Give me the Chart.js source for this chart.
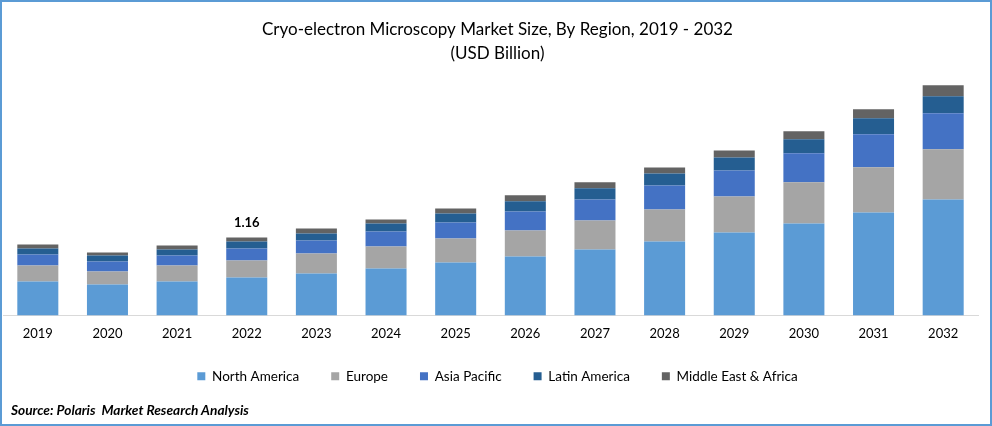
<!DOCTYPE html>
<html>
<head>
<meta charset="utf-8">
<title>Cryo-electron Microscopy Market Size</title>
<script src="https://cdn.jsdelivr.net/npm/chart.js@4"></script>
<style>
  html, body { margin: 0; padding: 0; background: #fff; }
  #wrap { position: relative; width: 992px; height: 426px; overflow: hidden; }
  #frame { position: absolute; inset: 0; border: 2px solid #5b9bd5; pointer-events: none; }
  #source { position: absolute; left: 11px; top: 401px; font: italic 700 13.7px Lato, sans-serif; color: #000; white-space: pre; }
</style>
</head>
<body>
<div id="wrap">
  <canvas id="myChart" width="992" height="426"></canvas>
  <div id="frame"></div>
  <div id="source">Source: Polaris  Market Research Analysis</div>
</div>
<script>
const years = ["2019","2020","2021","2022","2023","2024","2025","2026","2027","2028","2029","2030","2031","2032"];
const northAmerica = [0.506,0.461,0.506,0.565,0.625,0.699,0.788,0.877,0.982,1.100,1.234,1.368,1.532,1.725];
const europe = [0.238,0.193,0.238,0.253,0.297,0.327,0.357,0.387,0.431,0.476,0.535,0.610,0.669,0.744];
const asiaPacific = [0.164,0.149,0.149,0.178,0.193,0.223,0.238,0.283,0.312,0.357,0.387,0.431,0.491,0.535];
const latinAmerica = [0.089,0.089,0.089,0.104,0.104,0.119,0.134,0.149,0.164,0.178,0.193,0.208,0.238,0.253];
const middleEastAfrica = [0.059,0.045,0.059,0.059,0.074,0.059,0.074,0.089,0.089,0.089,0.104,0.119,0.134,0.164];
const labelledYear = "2022";
const labelledTotal = "1.16";

const fontName = "Lato, sans-serif";

// title and legend sit a little right of the plot centre in the original,
// and the legend is well above the bottom edge to leave room for the source line
const shiftBoxes = {
  id: "shiftBoxes",
  afterLayout(chart) {
    chart.titleBlock.left += 7;
    chart.titleBlock.right += 7;
    chart.legend.left += 7;
    chart.legend.right += 7;
    chart.legend.top -= 33;
    chart.legend.bottom -= 33;
  }
};

// the one total printed above the 2022 bar
const totalLabel = {
  id: "totalLabel",
  afterDatasetsDraw(chart) {
    const idx = years.indexOf(labelledYear);
    const top = chart.getDatasetMeta(4).data[idx];
    const ctx = chart.ctx;
    ctx.save();
    ctx.font = "700 13px " + fontName;
    ctx.fillStyle = "#000";
    ctx.textAlign = "center";
    ctx.textBaseline = "middle";
    ctx.fillText(labelledTotal, top.x, top.y - 15);
    ctx.restore();
  }
};

const ds = (label, data, color) => ({ label, data, backgroundColor: color, borderWidth: 0, barPercentage: 0.589, categoryPercentage: 1 });

new Chart(document.getElementById("myChart"), {
  type: "bar",
  data: {
    labels: years,
    datasets: [
      ds("North America", northAmerica, "#5b9bd5"),
      ds("Europe", europe, "#a5a5a5"),
      ds("Asia Pacific", asiaPacific, "#4472c4"),
      ds("Latin America", latinAmerica, "#255e91"),
      ds("Middle East & Africa", middleEastAfrica, "#636363"),
    ],
  },
  options: {
    responsive: false,
    animation: false,
    layout: { padding: { left: 3, right: 14, top: 0, bottom: 0 } },
    plugins: {
      tooltip: { enabled: false },
      title: {
        display: true,
        text: ["Cryo-electron Microscopy Market Size, By Region, 2019 - 2032", "(USD Billion)"],
        color: "#000",
        font: { family: fontName, size: 17, weight: "400", lineHeight: 1.41 },
        padding: { top: 18, bottom: 14 },
      },
      legend: {
        position: "bottom",
        labels: { boxWidth: 8, boxHeight: 8, padding: 32, color: "#000", font: { family: fontName, size: 13.5 } },
      },
    },
    scales: {
      x: {
        stacked: true,
        afterFit(axis) { axis.height = 55; },
        grid: { display: false, drawTicks: false },
        border: { color: "#d9d9d9", width: 1 },
        ticks: { color: "#000", padding: 11, autoSkip: false, maxRotation: 0, font: { family: fontName, size: 13 } },
      },
      y: { stacked: true, display: false, min: 0, max: 3.5 },
    },
  },
  plugins: [shiftBoxes, totalLabel],
});
</script>
</body>
</html>
